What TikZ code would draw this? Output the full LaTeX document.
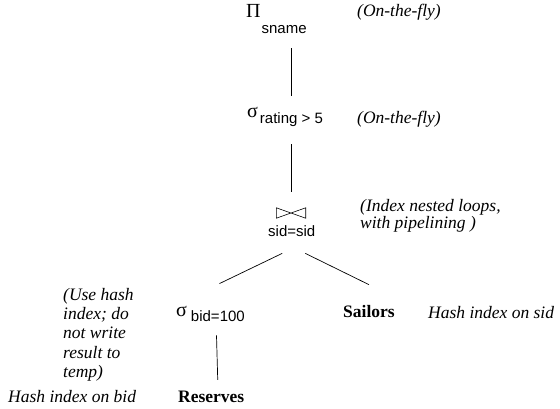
\documentclass[tikz,border=0pt]{standalone}
\usepackage{fontspec}
\setmainfont{Liberation Serif}
\setsansfont{Liberation Sans}
\newcommand{\subf}{\sffamily\fontsize{15}{15}\selectfont}
\newcommand{\opf}{\fontsize{20}{20}\selectfont}
\begin{document}
\begin{tikzpicture}[x=1pt,y=-1pt,
  op/.style={inner sep=0pt, anchor=base west},
  note/.style={inner sep=0pt, anchor=north west, align=left, font=\fontsize{17.5}{19.3}\selectfont\itshape},
  rel/.style={inner sep=0pt, anchor=base west, font=\fontsize{17.5}{20}\selectfont\bfseries},
  conn/.style={line width=0.7pt}]
\useasboundingbox (0,0) rectangle (560,408);
% operators
\node[op] (proj) at (246,17) {{\opf Π}\hspace{1pt}\raisebox{-16pt}{\subf sname}};
\node[op] (selr) at (247,117) {{\opf σ}\hspace{2pt}\raisebox{-6pt}{\subf rating > 5}};
\node[inner sep=0pt, minimum width=29pt, minimum height=10pt] (join) at (291,213) {};
\draw[line width=0.6pt] (join.north west) -- (join.south west) -- (join.north east) -- (join.south east) -- cycle;
\node[op] (joinlbl) at (268,236) {\subf sid=sid};
\node[op] (selb) at (176,316) {{\opf σ}\hspace{4pt}\raisebox{-5pt}{\subf bid=100}};
\node[rel] (sail) at (343,317) {Sailors};
\node[rel] (res) at (178,402) {Reserves};
% notes
\node[note, anchor=base west] (n1) at (357,16) {(On-the-fly)};
\node[note, anchor=base west] (n2) at (357,123) {(On-the-fly)};
\node[note, font=\fontsize{17.5}{17}\selectfont\itshape] (n3) at (360,199) {(Index nested loops,\\with pipelining )};
\node[note] (n4) at (63,288) {(Use hash\\index; do\\not write\\result to\\temp)};
\node[note, anchor=base west] (n5) at (8,402) {Hash index on bid};
\node[note, anchor=base west] (n6) at (428,318) {Hash index on sid};
% connectors
\draw[conn] ([shift={(0,15)}]proj.south -| join.center) -- ([shift={(0,-10.5)}]selr.north -| join.center);
\draw[conn] ([shift={(0,18)}]selr.south -| join.center) -- ([shift={(0,-16)}]join.north);
\draw[conn] ([shift={(-9.5,17)}]joinlbl.south) -- ([shift={(9,-22)}]selb.north);
\draw[conn] ([shift={(13.5,17)}]joinlbl.south) -- ([shift={(0,-20)}]sail.north);
\draw[conn] ([shift={(6,14)}]selb.south) -- ([shift={(6.5,-10.5)}]res.north);
\end{tikzpicture}
\end{document}
